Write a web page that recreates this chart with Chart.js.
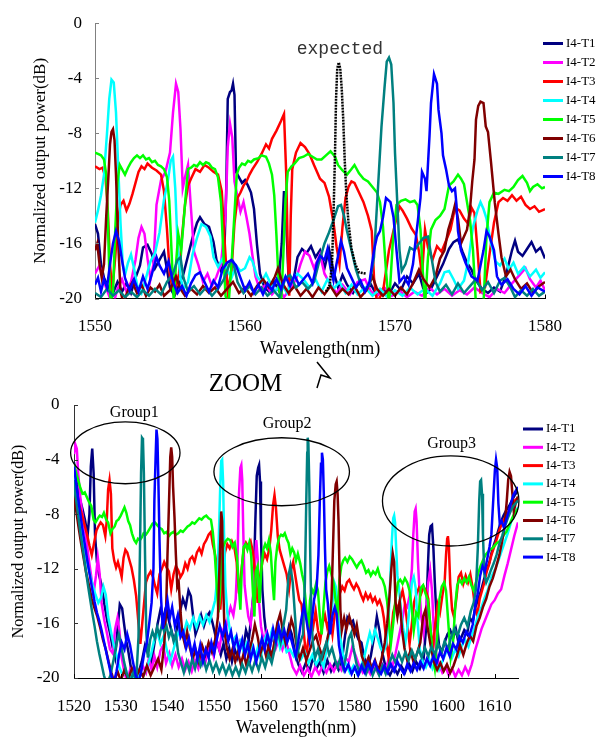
<!DOCTYPE html>
<html>
<head>
<meta charset="utf-8">
<title>I4 output spectra</title>
<script src="https://cdn.jsdelivr.net/npm/chart.js@4.4.1/dist/chart.umd.min.js"></script>
<style>
  html, body { margin: 0; padding: 0; background: #fff; }
  #wrap { position: relative; width: 596px; height: 738px; }
  canvas { position: absolute; left: 0; top: 0; }
</style>
</head>
<body>
<div id="wrap">
  <canvas id="fullChart" width="596" height="738"></canvas>
  <canvas id="zoomChart" width="596" height="738"></canvas>
</div>
<script>
// Series names and tick labels
const labels = ['I4-T1', 'I4-T2', 'I4-T3', 'I4-T4', 'I4-T5', 'I4-T6', 'I4-T7', 'I4-T8'];
const fullTicksX = [1550, 1560, 1570, 1580];
const zoomTicksX = [1520, 1530, 1540, 1550, 1560, 1570, 1580, 1590, 1600, 1610];
const ticksY = [0, -4, -8, -12, -16, -20];

// Upper plot, 1550-1580 nm: [wavelength, normalized power dB]
const fullT1 = [[1550,-14.6],[1550.2,-15.3],[1550.4,-17.5],[1550.6,-18.5],[1550.9,-19.2],[1551.2,-19.6],[1551.5,-18.8],[1551.8,-19.5],[1552.1,-18.9],[1552.4,-19.6],[1552.7,-18.5],[1553,-17.6],[1553.2,-16.3],[1553.5,-16.1],[1553.8,-16.8],[1554,-17.8],[1554.3,-17.2],[1554.6,-16.6],[1554.8,-17.9],[1555,-19.2],[1555.3,-19.8],[1555.6,-19],[1555.9,-18.2],[1556.2,-16.9],[1556.5,-15.6],[1556.8,-14.5],[1557,-14.1],[1557.3,-14.6],[1557.6,-14.8],[1557.9,-15.9],[1558.1,-17.2],[1558.4,-18],[1558.6,-17.4],[1558.75,-12],[1558.85,-5.5],[1559,-5],[1559.1,-4.9],[1559.2,-4.4],[1559.3,-5.2],[1559.4,-10.8],[1559.6,-11.2],[1559.8,-11.6],[1560,-11.4],[1560.2,-11.8],[1560.4,-12.3],[1560.6,-13.5],[1560.8,-16.1],[1561,-18.2],[1561.3,-19.2],[1561.6,-19.5],[1561.9,-18.7],[1562.2,-19.3],[1562.45,-16],[1562.6,-12.2],[1562.75,-14.5],[1562.9,-18.4],[1563.2,-18.9],[1563.5,-17],[1563.8,-16.4],[1564.1,-16.7],[1564.4,-16.2],[1564.7,-17],[1565,-16.5],[1565.3,-17.8],[1565.6,-16.4],[1565.9,-18],[1566.2,-19.2],[1566.5,-18.3],[1566.8,-19],[1567.2,-19.6],[1567.6,-18.8],[1568,-19.5],[1568.4,-19],[1568.8,-19.8],[1569.2,-19.3],[1569.6,-19.7],[1570,-18.9],[1570.4,-19.4],[1570.8,-18.4],[1571.2,-18.9],[1571.6,-18.2],[1572,-19.7],[1572.4,-19.3],[1572.8,-18.4],[1573.2,-17.5],[1573.6,-16.4],[1573.9,-15.9],[1574.2,-15.7],[1574.5,-16.6],[1574.8,-17.4],[1575.1,-17.9],[1575.4,-18.7],[1575.8,-19.3],[1576.2,-19.6],[1576.6,-19.2],[1577,-19.5],[1577.4,-18.3],[1577.8,-16.5],[1578,-15.8],[1578.2,-16.6],[1578.5,-16.9],[1578.8,-16.4],[1579.1,-15.9],[1579.4,-16.6],[1579.7,-16.3],[1580,-17.1]];
const fullT2 = [[1550,-18.2],[1550.3,-17.6],[1550.6,-18.8],[1550.9,-19.7],[1551.2,-20.5],[1551.5,-19.3],[1551.8,-18.6],[1552.1,-19.5],[1552.4,-18.8],[1552.7,-17.2],[1552.9,-15.6],[1553.1,-14.8],[1553.3,-15.3],[1553.5,-17.1],[1553.7,-18.6],[1553.9,-17.5],[1554.1,-13.2],[1554.4,-11.4],[1554.7,-10.8],[1555,-9.4],[1555.2,-6.5],[1555.4,-4.4],[1555.55,-5],[1555.7,-7.7],[1555.85,-12],[1556,-11.2],[1556.2,-10.3],[1556.4,-13.5],[1556.6,-16.6],[1556.9,-17.6],[1557.2,-18.8],[1557.5,-18.2],[1557.8,-19.1],[1558.1,-18.4],[1558.4,-17.5],[1558.7,-14],[1558.85,-9],[1559,-7.3],[1559.15,-8.3],[1559.3,-11.5],[1559.5,-12.6],[1559.7,-13.7],[1559.9,-13],[1560.1,-14.1],[1560.3,-15.3],[1560.5,-16.9],[1560.7,-18.4],[1561,-19.4],[1561.4,-19],[1561.8,-19.7],[1562.2,-19.2],[1562.6,-19.9],[1563,-19.3],[1563.4,-18.6],[1563.7,-17.5],[1564,-16.6],[1564.3,-16.9],[1564.6,-17.8],[1565,-16.8],[1565.3,-18.2],[1565.7,-19],[1566.1,-19.6],[1566.5,-19],[1567,-19.7],[1567.5,-18.8],[1568,-18.6],[1568.4,-19.5],[1568.8,-19.8],[1569.3,-19.2],[1569.8,-19.8],[1570.3,-19.4],[1570.8,-19.9],[1571.3,-19.5],[1571.8,-19.8],[1572.3,-19.2],[1572.8,-19.7],[1573.3,-19.3],[1573.8,-19.8],[1574.3,-19.4],[1574.8,-19.7],[1575.3,-19.2],[1575.8,-19.6],[1576.3,-19.9],[1576.8,-19.3],[1577.3,-19.6],[1577.8,-18.9],[1578.3,-18.3],[1578.7,-17.8],[1579,-18.6],[1579.4,-19.2],[1579.7,-18.7],[1580,-19.4]];
const fullT3 = [[1550,-10.4],[1550.3,-10.6],[1550.5,-10.5],[1550.7,-11.2],[1550.85,-13.5],[1551,-17.5],[1551.15,-19.5],[1551.35,-17],[1551.5,-14.5],[1551.7,-13.2],[1551.9,-12.9],[1552.1,-13.6],[1552.3,-13.1],[1552.5,-12.4],[1552.7,-11.6],[1552.9,-10.8],[1553.1,-10.4],[1553.3,-10.6],[1553.5,-10.2],[1553.8,-10.5],[1554.1,-10.7],[1554.4,-11],[1554.6,-12.2],[1554.8,-15],[1555,-18.5],[1555.3,-19.6],[1555.6,-18.2],[1555.8,-15.5],[1556,-13.2],[1556.2,-11.8],[1556.4,-11.3],[1556.7,-10.6],[1557,-10.8],[1557.3,-10.3],[1557.6,-10.5],[1557.9,-10.8],[1558.2,-11],[1558.45,-12.2],[1558.65,-16],[1558.85,-19.5],[1559.1,-18],[1559.3,-14.5],[1559.5,-12.7],[1559.7,-12.3],[1559.9,-11.8],[1560.1,-11.5],[1560.3,-11],[1560.5,-10.6],[1560.8,-10.1],[1561.1,-9.5],[1561.4,-8.8],[1561.6,-9.1],[1561.8,-8.4],[1562.1,-7.8],[1562.4,-7.1],[1562.6,-6.6],[1562.75,-11],[1562.85,-16.5],[1562.95,-19.8],[1563.05,-14],[1563.15,-10.6],[1563.4,-9.4],[1563.7,-8.7],[1564,-9],[1564.3,-9.5],[1564.6,-10.3],[1565,-11.3],[1565.3,-11.6],[1565.6,-12.6],[1565.9,-14.5],[1566.1,-16.2],[1566.3,-17.5],[1566.5,-14.8],[1566.7,-12.7],[1566.9,-11.9],[1567.1,-11.5],[1567.3,-11.6],[1567.6,-12.3],[1567.9,-13],[1568.2,-14],[1568.45,-15.1],[1568.6,-18.5],[1568.8,-20.3],[1569.2,-19.5],[1569.6,-16.5],[1570,-14.6],[1570.3,-13.3],[1570.5,-13.6],[1570.8,-14.2],[1571.1,-14.9],[1571.4,-15.4],[1571.6,-16.6],[1571.8,-18.3],[1572,-15],[1572.2,-16.3],[1572.5,-17.2],[1572.8,-16.2],[1573.1,-16.6],[1573.4,-15.8],[1573.7,-15],[1574,-13.4],[1574.3,-13.6],[1574.6,-14.2],[1574.9,-14.6],[1575.1,-13.4],[1575.3,-13.8],[1575.5,-16.5],[1575.7,-19.5],[1576,-19.2],[1576.3,-16.8],[1576.6,-14.5],[1576.9,-13],[1577.2,-12.7],[1577.5,-12.9],[1577.8,-12.5],[1578.1,-12.9],[1578.4,-12.6],[1578.7,-13.2],[1579,-13.5],[1579.3,-13.3],[1579.6,-13.7],[1580,-13.5]];
const fullT4 = [[1550,-14.5],[1550.2,-13.6],[1550.4,-12.5],[1550.6,-11],[1550.8,-8],[1550.95,-5.5],[1551.1,-4.1],[1551.25,-4.3],[1551.4,-6.5],[1551.55,-10.5],[1551.7,-14.5],[1551.85,-17.5],[1552,-18.3],[1552.2,-17.4],[1552.4,-16.8],[1552.6,-17.8],[1552.8,-19],[1553.1,-19.6],[1553.4,-18.5],[1553.7,-17.3],[1554,-16.7],[1554.3,-15.2],[1554.6,-12.8],[1554.85,-11.5],[1555.05,-10],[1555.2,-9.7],[1555.35,-12],[1555.5,-16],[1555.7,-18.5],[1555.9,-19.3],[1556.2,-18.8],[1556.5,-16.8],[1556.8,-15.6],[1557.1,-14.6],[1557.4,-14.8],[1557.7,-15.5],[1557.9,-17],[1558.2,-17.7],[1558.5,-17.1],[1558.8,-17.9],[1559.1,-18.5],[1559.4,-17.6],[1559.7,-18],[1560,-17.8],[1560.3,-17],[1560.5,-17.3],[1560.8,-18.4],[1561.1,-18.8],[1561.4,-18.2],[1561.7,-18.9],[1562,-19.5],[1562.4,-18.9],[1562.8,-19.6],[1563.1,-18.8],[1563.5,-18.2],[1563.9,-18.6],[1564.3,-19.2],[1564.7,-18.6],[1565.1,-19.5],[1565.5,-18.6],[1565.9,-19.3],[1566.3,-18.8],[1566.7,-19.6],[1567.1,-19],[1567.5,-19.7],[1568,-19.2],[1568.5,-19.8],[1569,-19.3],[1569.5,-19.9],[1570,-19.4],[1570.5,-19.8],[1571,-19.2],[1571.5,-19.7],[1572,-19.3],[1572.5,-19.8],[1573,-18.9],[1573.3,-18.1],[1573.6,-18],[1573.9,-18.6],[1574.2,-19.3],[1574.6,-18.7],[1574.9,-17.2],[1575.2,-14.8],[1575.5,-13.6],[1575.7,-13],[1575.9,-13.5],[1576.1,-14.2],[1576.4,-16],[1576.7,-17.3],[1577,-17.6],[1577.3,-17.1],[1577.6,-17.9],[1577.9,-17.4],[1578.2,-18.2],[1578.6,-17.7],[1579,-18.4],[1579.4,-17.9],[1579.7,-18.5],[1580,-18.1]];
const fullT5 = [[1550,-9.4],[1550.2,-9.5],[1550.4,-9.6],[1550.6,-9.9],[1550.75,-11],[1550.85,-14],[1550.95,-18],[1551.05,-20.5],[1551.2,-19.5],[1551.35,-15],[1551.5,-11.5],[1551.65,-10.3],[1551.8,-10.6],[1552,-11],[1552.2,-10.5],[1552.4,-10.1],[1552.6,-9.8],[1552.8,-9.6],[1553,-9.8],[1553.2,-9.6],[1553.4,-9.9],[1553.6,-9.8],[1553.8,-10.1],[1554,-10],[1554.2,-10.3],[1554.4,-10.4],[1554.6,-10.6],[1554.8,-11.2],[1554.95,-12.9],[1555.1,-16.5],[1555.25,-20.2],[1555.4,-17.5],[1555.55,-15.3],[1555.75,-16.5],[1555.9,-14.5],[1556.05,-12.5],[1556.2,-10.6],[1556.4,-10.5],[1556.6,-10.3],[1556.8,-10.4],[1557,-10.1],[1557.2,-10.3],[1557.4,-10.1],[1557.6,-10.2],[1557.8,-10.5],[1558,-10.6],[1558.2,-11.2],[1558.4,-13],[1558.55,-16.5],[1558.7,-19.8],[1558.9,-20.5],[1559.1,-17.5],[1559.3,-13.8],[1559.45,-11],[1559.6,-10.5],[1559.8,-10.2],[1560,-10.3],[1560.2,-10],[1560.4,-10.1],[1560.6,-9.9],[1560.9,-9.8],[1561.1,-9.6],[1561.4,-9.7],[1561.6,-10.2],[1561.8,-11],[1561.95,-12.5],[1562.1,-15.5],[1562.25,-19],[1562.4,-20.5],[1562.55,-17],[1562.7,-12.8],[1562.85,-10.8],[1563.1,-10.4],[1563.3,-10.2],[1563.6,-9.8],[1563.9,-9.7],[1564.2,-9.5],[1564.5,-9.7],[1564.8,-9.9],[1565.1,-9.9],[1565.4,-9.6],[1565.7,-9.3],[1566,-9.7],[1566.2,-10.3],[1566.5,-10.7],[1566.8,-11],[1567.1,-10.6],[1567.3,-10.3],[1567.6,-10.9],[1567.9,-11.3],[1568.2,-11.5],[1568.5,-11.9],[1568.8,-12.3],[1569,-13],[1569.2,-14.8],[1569.4,-18],[1569.6,-20.5],[1569.85,-16],[1570.1,-13.2],[1570.4,-12.9],[1570.7,-12.8],[1571,-13],[1571.3,-12.9],[1571.5,-13.2],[1571.7,-15],[1571.85,-18],[1572,-20.5],[1572.2,-17],[1572.4,-15],[1572.7,-14.3],[1573,-14],[1573.3,-13.5],[1573.6,-11.8],[1573.9,-11.5],[1574.2,-11],[1574.4,-11.3],[1574.6,-11.7],[1574.8,-13],[1575,-14.3],[1575.2,-16.5],[1575.4,-20.5],[1575.9,-20.4],[1576.1,-15.5],[1576.3,-13],[1576.6,-12.3],[1576.9,-12.4],[1577.3,-12.1],[1577.6,-12.2],[1577.9,-11.9],[1578.2,-11.4],[1578.5,-11.1],[1578.8,-11.6],[1579,-12.2],[1579.2,-11.9],[1579.5,-11.7],[1579.8,-12],[1580,-11.9]];
const fullT6 = [[1550,-16.5],[1550.15,-16],[1550.3,-17.5],[1550.45,-18.5],[1550.6,-17.5],[1550.75,-14],[1550.9,-11],[1551,-8.8],[1551.1,-7.9],[1551.2,-7.7],[1551.3,-8.5],[1551.4,-11],[1551.55,-16],[1551.7,-19.5],[1551.9,-20.3],[1552.2,-19.4],[1552.5,-18.8],[1552.8,-19.6],[1553.1,-19],[1553.4,-19.8],[1553.7,-19.2],[1554,-19.5],[1554.3,-19],[1554.6,-19.8],[1555,-19.4],[1555.4,-18.4],[1555.7,-19.3],[1556,-19.8],[1556.4,-19.3],[1556.8,-19.7],[1557.2,-19.1],[1557.6,-19.6],[1558,-19.2],[1558.4,-19.8],[1558.8,-19.3],[1559.2,-18.8],[1559.6,-19.6],[1560,-19.2],[1560.4,-19.8],[1560.8,-19.1],[1561.2,-18.6],[1561.6,-19.2],[1562,-18.4],[1562.2,-17.8],[1562.5,-18.9],[1562.9,-19.6],[1563.3,-19.1],[1563.7,-19.8],[1564.1,-19.3],[1564.5,-19.9],[1564.9,-19.2],[1565.3,-19.7],[1565.7,-19.1],[1566.1,-19.8],[1566.5,-19.3],[1566.9,-19.7],[1567.3,-19.1],[1567.7,-19.9],[1568.1,-19.4],[1568.5,-18.4],[1568.8,-19.3],[1569.2,-19.8],[1569.6,-19.3],[1570,-19.8],[1570.4,-19.2],[1570.8,-19.7],[1571.2,-18.9],[1571.6,-17.9],[1571.9,-18.6],[1572.3,-19.2],[1572.7,-18.4],[1573,-17.1],[1573.3,-16.5],[1573.55,-15],[1573.8,-14.1],[1574,-13.2],[1574.2,-14.2],[1574.4,-16],[1574.6,-15.5],[1574.8,-15],[1575,-13.5],[1575.15,-11.5],[1575.3,-9.9],[1575.4,-7],[1575.55,-6],[1575.7,-5.7],[1575.9,-5.8],[1576.05,-7.5],[1576.2,-7.9],[1576.4,-10.1],[1576.65,-13],[1576.9,-15.3],[1577.1,-17],[1577.4,-18.4],[1577.7,-17.9],[1578,-18.6],[1578.4,-19.3],[1578.8,-18.9],[1579.2,-19.6],[1579.6,-19.1],[1580,-18.8]];
const fullT7 = [[1550,-19.6],[1550.4,-19.9],[1550.8,-19.3],[1551.2,-19.8],[1551.6,-19.4],[1552,-19.9],[1552.4,-19.5],[1552.8,-19.9],[1553.2,-19.4],[1553.6,-19.8],[1554,-19.3],[1554.4,-19.7],[1554.8,-18.8],[1555.2,-18.2],[1555.5,-17.2],[1555.7,-17],[1555.9,-18.5],[1556.2,-19.5],[1556.6,-19.1],[1557,-19.7],[1557.4,-19.2],[1557.8,-19.8],[1558.2,-19.3],[1558.6,-18.6],[1559,-17.4],[1559.2,-17.3],[1559.5,-18.8],[1559.9,-19.6],[1560.3,-19.1],[1560.7,-19.7],[1561.1,-19.2],[1561.5,-19.8],[1561.9,-19.4],[1562.3,-19.9],[1562.7,-18.5],[1563,-18.3],[1563.4,-19.2],[1563.8,-18.8],[1564.2,-19.3],[1564.6,-18.8],[1564.9,-17.5],[1565.3,-16],[1565.6,-15.2],[1565.9,-14.3],[1566.2,-13.3],[1566.4,-13.2],[1566.6,-14],[1566.8,-15.1],[1567.1,-16.5],[1567.4,-17.9],[1567.7,-18.9],[1568,-19.4],[1568.3,-19],[1568.6,-17],[1568.9,-11.3],[1569.1,-7.5],[1569.3,-4.7],[1569.45,-2.8],[1569.6,-2.5],[1569.75,-3],[1569.9,-5.8],[1570,-9.4],[1570.15,-13],[1570.3,-16.5],[1570.45,-18],[1570.7,-17.5],[1571,-16.3],[1571.3,-16.5],[1571.6,-16],[1571.9,-15.6],[1572.2,-15.5],[1572.4,-16.8],[1572.7,-18.8],[1573,-19.5],[1573.4,-19],[1573.8,-19.7],[1574.2,-18.9],[1574.6,-19.6],[1575,-19.1],[1575.4,-18.6],[1575.8,-19.4],[1576.2,-18.8],[1576.6,-19.6],[1577,-18.7],[1577.3,-18.5],[1577.7,-19.2],[1578,-19.9],[1578.4,-19.4],[1578.8,-19.8],[1579.2,-19.3],[1579.6,-19.8],[1580,-19.5]];
const fullT8 = [[1550,-19],[1550.2,-18.5],[1550.4,-19.5],[1550.6,-18.6],[1550.8,-19.2],[1551,-17.5],[1551.2,-16],[1551.4,-15.1],[1551.6,-15.8],[1551.8,-17.2],[1552,-18.5],[1552.3,-19.4],[1552.6,-18.6],[1552.9,-19.5],[1553.2,-18.4],[1553.5,-19.3],[1553.8,-18.2],[1554.1,-17],[1554.3,-17.6],[1554.6,-18.2],[1554.9,-17.3],[1555.2,-18.8],[1555.5,-19.6],[1555.8,-19.1],[1556.1,-19.8],[1556.4,-18.9],[1556.7,-18.3],[1557,-18.1],[1557.3,-18.8],[1557.6,-19.5],[1557.9,-18.7],[1558.2,-19.2],[1558.5,-17.9],[1558.8,-17.4],[1559.1,-17.2],[1559.4,-17.6],[1559.7,-18.5],[1560,-19.4],[1560.3,-18.8],[1560.6,-19.6],[1560.9,-19],[1561.2,-19.7],[1561.5,-18.9],[1561.8,-19.4],[1562.1,-18.6],[1562.4,-19.3],[1562.7,-18.4],[1563,-19.1],[1563.3,-18.3],[1563.6,-19],[1563.9,-18.6],[1564.2,-18.2],[1564.5,-18.9],[1564.8,-17.4],[1565,-16.9],[1565.3,-17.2],[1565.5,-16.4],[1565.7,-17.8],[1565.9,-18.7],[1566.1,-17.5],[1566.4,-15.8],[1566.6,-16.6],[1566.8,-17.8],[1567.1,-18.5],[1567.4,-19.2],[1567.7,-18.7],[1568,-19.5],[1568.3,-18.8],[1568.6,-16.5],[1568.8,-15.5],[1569,-15.1],[1569.2,-14.1],[1569.4,-12.7],[1569.7,-13],[1569.9,-14.1],[1570.1,-16.5],[1570.3,-18.8],[1570.6,-18.4],[1570.9,-19],[1571.2,-17.5],[1571.4,-15.5],[1571.7,-12.7],[1571.8,-10.8],[1572,-11.3],[1572.1,-12.2],[1572.3,-8.2],[1572.4,-5.8],[1572.6,-3.7],[1572.8,-4.4],[1572.9,-6.3],[1573.1,-8],[1573.2,-9.6],[1573.4,-10.6],[1573.6,-11.8],[1573.8,-12.2],[1574,-12],[1574.1,-13.2],[1574.2,-15.1],[1574.4,-16.5],[1574.7,-17.4],[1575.1,-18.4],[1575.5,-18.7],[1575.9,-16.5],[1576.1,-15.1],[1576.3,-15.5],[1576.6,-16.5],[1576.8,-18.4],[1577.1,-19],[1577.5,-18.6],[1577.9,-19.3],[1578.3,-19.7],[1578.7,-19.1],[1579.1,-19.8],[1579.5,-19.2],[1580,-19.5]];
const expected = [[1565.4,-19.5],[1565.65,-19],[1565.8,-17.5],[1565.9,-14],[1566,-9.5],[1566.07,-5.5],[1566.15,-3.3],[1566.25,-2.85],[1566.35,-3.3],[1566.45,-4.8],[1566.55,-7],[1566.65,-10],[1566.75,-12.3],[1566.9,-14.5],[1567.1,-16.4],[1567.35,-17.5],[1567.6,-18.1],[1568.1,-18.2]];

// Lower plot (zoom), 1520-1615 nm
const zoomT1 = [[1520,-4.2],[1520.6,-5.8],[1521.2,-6.8],[1521.8,-7.6],[1522.4,-8.5],[1522.9,-9.6],[1523.3,-8],[1523.6,-4.5],[1523.9,-3.2],[1524.2,-5],[1524.5,-9.5],[1524.9,-11.5],[1525.4,-12.5],[1525.9,-13.2],[1526.5,-14.6],[1527.1,-15.8],[1527.7,-16.7],[1528.3,-17.8],[1528.8,-18.5],[1529.3,-16.5],[1529.8,-14.6],[1530.3,-14.9],[1530.7,-16],[1531.2,-17.3],[1531.7,-18.2],[1532.3,-19.5],[1533,-20.5],[1533.8,-19.6],[1534.5,-18.8],[1535.2,-17.6],[1535.8,-18.2],[1536.5,-19],[1537.2,-17.5],[1537.9,-16],[1538.5,-15],[1539.1,-15.6],[1539.7,-14.8],[1540.3,-15.8],[1540.9,-16.6],[1541.5,-17.4],[1542.1,-16.2],[1542.7,-15.1],[1543.3,-14.2],[1543.9,-14.8],[1544.5,-13.6],[1545,-14],[1545.5,-15.5],[1546,-16.8],[1546.6,-16.2],[1547.2,-15.4],[1547.8,-16.2],[1548.4,-15.5],[1549,-15.2],[1549.6,-15.9],[1550.2,-16.8],[1550.8,-17.6],[1551.4,-18.3],[1552,-17.5],[1552.6,-18.6],[1553.2,-17.8],[1553.8,-18.8],[1554.4,-17.9],[1555,-18.5],[1555.6,-17.4],[1556.2,-17.9],[1556.8,-16.5],[1557.4,-17.2],[1557.9,-15.6],[1558.4,-13.8],[1558.8,-8.5],[1559.1,-5.2],[1559.4,-4.6],[1559.6,-4.4],[1559.8,-5.6],[1560,-9.5],[1560.3,-13.5],[1560.7,-15.5],[1561.2,-17],[1561.8,-18],[1562.3,-16.8],[1562.9,-17.5],[1563.5,-16.2],[1564.1,-17],[1564.7,-16.4],[1565.3,-17.3],[1566,-16.2],[1566.6,-16.8],[1567.3,-18.2],[1568,-19],[1568.8,-19.6],[1569.6,-18.9],[1570.4,-19.5],[1571.2,-18.4],[1571.9,-19.3],[1572.6,-18.8],[1573.4,-19.6],[1574.2,-18.7],[1575,-19.5],[1575.8,-18.9],[1576.6,-19.4],[1577.4,-18.5],[1578,-16.9],[1578.5,-15.6],[1579.1,-16],[1579.7,-15.8],[1580.3,-16.7],[1580.9,-17.2],[1581.5,-17.4],[1582.1,-18.5],[1582.8,-19.3],[1583.5,-18.4],[1584.2,-17],[1584.8,-15.5],[1585.4,-16.6],[1586,-18.2],[1586.8,-19.4],[1587.6,-19.8],[1588.4,-19.2],[1589.2,-19.7],[1590,-19.1],[1590.8,-19.6],[1591.6,-18.9],[1592.4,-19.5],[1593.2,-18.8],[1594,-19.3],[1594.8,-18.6],[1595.3,-16.5],[1595.7,-12],[1596,-9.5],[1596.3,-8.9],[1596.6,-8.8],[1596.9,-10.5],[1597.2,-13],[1597.6,-15.8],[1598.1,-17.6],[1598.7,-18.1],[1599.3,-17.4],[1599.9,-16.8],[1600.5,-16.5],[1601.1,-17.1],[1601.7,-16.4],[1602.3,-17.5],[1602.9,-17],[1603.5,-16.5],[1604.1,-16.8],[1604.7,-15.6],[1605.3,-15.9],[1605.9,-14.8],[1606.5,-14.2],[1607.1,-13.6],[1607.7,-12.8],[1608.3,-12.1],[1608.9,-11.5],[1609.5,-10.6],[1610.1,-10],[1610.7,-9.3],[1611.3,-8.6],[1611.9,-8.1],[1612.5,-7.7],[1613.1,-7.4],[1613.7,-7],[1614.3,-6.6],[1615,-6.3]];
const zoomT2 = [[1520,-3.6],[1520.3,-2.9],[1520.6,-3.2],[1520.9,-5],[1521.3,-6.6],[1521.7,-7.8],[1522.2,-8.9],[1522.7,-10],[1523.2,-11.4],[1523.7,-12.6],[1524.2,-13.8],[1524.7,-12.5],[1525.1,-11.2],[1525.5,-12.4],[1525.9,-14.5],[1526.5,-15.8],[1527.1,-16.8],[1527.7,-17.9],[1528.3,-18.2],[1528.8,-16.4],[1529.3,-15.6],[1529.7,-16.5],[1530.2,-18.5],[1530.8,-19.6],[1531.4,-20.3],[1532,-19.4],[1532.6,-19.9],[1533.3,-19.3],[1534,-19.8],[1534.7,-19.1],[1535.4,-19.6],[1536,-18.6],[1536.6,-19.4],[1537.2,-18.4],[1537.8,-19.2],[1538.5,-18],[1539.1,-17.6],[1539.7,-18.9],[1540.4,-18.2],[1541,-19.1],[1541.7,-18.3],[1542.4,-19.2],[1543.1,-18.6],[1543.8,-19.4],[1544.5,-18.8],[1545.2,-19.5],[1545.9,-18.7],[1546.6,-19.3],[1547.3,-18.4],[1548,-19],[1548.7,-18],[1549.3,-17.5],[1549.9,-18.4],[1550.5,-17.2],[1551.1,-17.9],[1551.7,-16.5],[1552.3,-16.9],[1552.9,-15.6],[1553.5,-14.8],[1554.1,-15.4],[1554.6,-14.2],[1555,-11],[1555.3,-6.5],[1555.6,-4.6],[1555.8,-4.4],[1556,-5.5],[1556.2,-9],[1556.5,-13.2],[1556.9,-14.4],[1557.3,-15.5],[1557.8,-16.1],[1558.3,-14.2],[1558.7,-11.5],[1559,-9.9],[1559.3,-11.2],[1559.6,-14.5],[1560,-16.2],[1560.6,-17.3],[1561.2,-16.6],[1561.9,-17.5],[1562.5,-16.9],[1563.2,-17.8],[1563.9,-17.1],[1564.6,-17.9],[1565.3,-17.2],[1566,-18.1],[1566.8,-19.2],[1567.6,-19.7],[1568.4,-19.1],[1569.2,-19.8],[1570,-19.3],[1570.8,-19.9],[1571.6,-19.2],[1572.4,-19.7],[1573.2,-19.1],[1574,-19.6],[1574.8,-19],[1575.6,-19.5],[1576.4,-18.9],[1577.2,-19.4],[1578,-18.5],[1578.8,-18.8],[1579.5,-17.8],[1580.2,-18.3],[1581,-19.1],[1581.8,-19.6],[1582.6,-19.2],[1583.4,-19.7],[1584.2,-19.1],[1585,-19.6],[1585.8,-18.9],[1586.6,-19.4],[1587.4,-18.6],[1588.1,-19.2],[1588.8,-18.2],[1589.5,-17],[1590.2,-15.8],[1590.8,-14.6],[1591.3,-14.8],[1591.8,-14],[1592.3,-12],[1592.6,-9.5],[1592.9,-7.8],[1593.1,-7.6],[1593.3,-8.5],[1593.6,-11.5],[1593.9,-13.5],[1594.3,-15.5],[1594.8,-16.7],[1595.3,-15],[1595.8,-13],[1596.2,-12.1],[1596.6,-13.6],[1597,-16.5],[1597.5,-18.2],[1598.1,-19],[1598.8,-19.6],[1599.5,-19.2],[1600.2,-19.8],[1600.9,-19.3],[1601.6,-19.9],[1602.3,-19.4],[1603,-19.8],[1603.7,-19.2],[1604.4,-19.7],[1605.1,-19],[1605.8,-18],[1606.5,-17.2],[1607.2,-16.4],[1607.9,-15.8],[1608.6,-15.2],[1609.3,-14.6],[1610,-14.3],[1610.7,-13.8],[1611.4,-13.5],[1612.1,-12.5],[1612.8,-11.6],[1613.5,-10.6],[1614.2,-9.6],[1615,-8.6]];
const zoomT3 = [[1520,-5.8],[1520.5,-6.5],[1521,-7.2],[1521.6,-7.9],[1522.2,-8.7],[1522.8,-9.5],[1523.3,-10.3],[1523.8,-11],[1524.3,-10.1],[1524.8,-9.2],[1525.2,-8.9],[1525.7,-8.6],[1526.2,-8.8],[1526.7,-9.6],[1527,-8.5],[1527.3,-6.2],[1527.6,-5.5],[1527.9,-6.5],[1528.2,-10.5],[1528.6,-11.4],[1529,-11.9],[1529.4,-11.5],[1529.8,-12],[1530.2,-12.6],[1530.6,-11.2],[1531,-10.6],[1531.4,-10.8],[1531.8,-11.3],[1532.3,-11.9],[1532.8,-12.8],[1533.3,-14],[1533.8,-16],[1534.2,-17.5],[1534.6,-16],[1535,-14.5],[1535.4,-13],[1535.9,-12.5],[1536.4,-12.2],[1536.9,-12.6],[1537.3,-13.2],[1537.8,-13.8],[1538.3,-12.4],[1538.8,-12],[1539.3,-11.5],[1539.8,-11.9],[1540.3,-12.2],[1540.8,-13.5],[1541.3,-12.4],[1541.8,-11.8],[1542.3,-12.1],[1542.8,-12.6],[1543.3,-12.3],[1543.8,-11.6],[1544.3,-12],[1544.8,-11.3],[1545.3,-11.1],[1545.8,-11.5],[1546.3,-10.8],[1546.8,-10.5],[1547.3,-10.9],[1547.8,-10.2],[1548.3,-9.9],[1548.8,-9.5],[1549.3,-9.3],[1549.7,-10.2],[1550.1,-10.8],[1550.5,-11.6],[1550.9,-13.5],[1551.3,-15],[1551.8,-12.5],[1552.3,-10.8],[1552.8,-10.2],[1553.3,-10.5],[1553.8,-10],[1554.3,-10.4],[1554.8,-11.5],[1555.3,-13.8],[1555.8,-12.2],[1556.3,-10.6],[1556.8,-10.1],[1557.3,-10.4],[1557.8,-10],[1558.3,-10.8],[1558.8,-12.5],[1559.3,-14.5],[1559.8,-12.6],[1560.3,-11.5],[1560.8,-10.9],[1561.3,-11.3],[1561.8,-10.5],[1562.2,-9.2],[1562.6,-7.3],[1562.9,-6.6],[1563.2,-7.5],[1563.6,-9.6],[1564,-10.6],[1564.5,-11.2],[1565,-11.8],[1565.5,-12.4],[1566,-13.5],[1566.5,-12],[1566.9,-11.5],[1567.3,-12.4],[1567.8,-13.5],[1568.2,-14.3],[1568.7,-14.6],[1569.2,-16.8],[1569.7,-18.5],[1570.2,-17],[1570.7,-15.5],[1571.2,-16.2],[1571.7,-15.1],[1572.2,-16.5],[1572.7,-17.2],[1573.2,-16],[1573.7,-15.4],[1574.2,-16.3],[1574.8,-15.6],[1575.3,-16.8],[1575.9,-15],[1576.4,-14.2],[1576.9,-13.8],[1577.4,-13.3],[1577.9,-13.6],[1578.4,-13],[1578.9,-12.8],[1579.4,-13.2],[1579.9,-13.5],[1580.4,-13.1],[1580.9,-13.4],[1581.4,-13.9],[1581.9,-14.3],[1582.4,-13.8],[1582.9,-14.2],[1583.4,-13.9],[1583.9,-14.4],[1584.4,-14.1],[1584.9,-14.6],[1585.4,-14.3],[1585.9,-14.8],[1586.3,-15.6],[1586.8,-17.2],[1587.3,-18.5],[1587.8,-17],[1588.3,-15.2],[1588.8,-14.5],[1589.3,-15],[1589.8,-14.2],[1590.3,-13.6],[1590.8,-14.5],[1591.3,-16],[1591.8,-17.5],[1592.3,-16],[1592.8,-14.4],[1593.3,-13.8],[1593.8,-13.4],[1594.3,-13.8],[1594.8,-13.3],[1595.3,-13.6],[1595.8,-14.2],[1596.3,-16.5],[1596.8,-17.8],[1597.3,-16],[1597.8,-14.6],[1598.3,-15.2],[1598.8,-14],[1599.3,-13],[1599.6,-11],[1599.85,-9.8],[1600,-9.6],[1600.2,-10.3],[1600.5,-13.1],[1600.9,-15],[1601.3,-15.5],[1601.8,-14.2],[1602.3,-12.6],[1602.8,-12.3],[1603.3,-13.1],[1603.8,-12.5],[1604.3,-13],[1604.8,-12.4],[1605.3,-13.4],[1605.8,-14.8],[1606.3,-15.4],[1606.8,-14.2],[1607.3,-13.6],[1607.8,-13],[1608.3,-12.2],[1608.8,-11.7],[1609.3,-11],[1609.8,-10.5],[1610.3,-10],[1610.8,-9.4],[1611.3,-8.9],[1611.8,-8.5],[1612.3,-8.2],[1612.8,-7.9],[1613.3,-7.6],[1613.8,-7.3],[1614.3,-7],[1615,-6.8]];
const zoomT4 = [[1520,-5.2],[1520.5,-6.8],[1521,-8],[1521.6,-9.3],[1522.2,-10.4],[1522.8,-11.5],[1523.4,-12.4],[1524,-13.2],[1524.6,-13.9],[1525.2,-14.5],[1525.8,-14.1],[1526.3,-13.3],[1526.8,-13.9],[1527.3,-15.5],[1527.9,-16.6],[1528.5,-17.6],[1529.1,-18.3],[1529.7,-19.2],[1530.4,-19.8],[1531.1,-19.4],[1531.8,-20.2],[1532.5,-19.6],[1533.2,-20.3],[1534,-19.5],[1534.8,-19.9],[1535.6,-19.2],[1536.4,-18.4],[1537.1,-17.3],[1537.8,-16.6],[1538.5,-17.5],[1539.2,-16.9],[1539.9,-18],[1540.6,-18.8],[1541.3,-17.9],[1542,-17],[1542.7,-16.4],[1543.4,-16.8],[1544.1,-15.9],[1544.8,-16.4],[1545.5,-15.6],[1546.2,-16.3],[1546.9,-15.5],[1547.6,-16.1],[1548.3,-15.4],[1549,-15.9],[1549.6,-15.1],[1550.2,-14.3],[1550.7,-12.5],[1551,-9.5],[1551.3,-5.8],[1551.5,-4.1],[1551.7,-4],[1551.9,-5.6],[1552.1,-9.4],[1552.4,-13.3],[1552.8,-15.2],[1553.3,-16.4],[1553.9,-17.3],[1554.5,-17],[1555.1,-17.8],[1555.7,-17.3],[1556.3,-18.1],[1556.9,-17.5],[1557.5,-18.3],[1558.1,-17.6],[1558.7,-18.5],[1559.3,-17.8],[1559.9,-18.6],[1560.5,-17.4],[1561.1,-16.9],[1561.7,-17.5],[1562.3,-16.6],[1562.9,-17.4],[1563.5,-16.9],[1564.1,-17.8],[1564.8,-17.2],[1565.5,-18.1],[1566.2,-17.9],[1567,-18.4],[1567.8,-17.9],[1568.6,-18.6],[1569.4,-18.1],[1570.2,-18.9],[1571,-18.3],[1571.8,-19],[1572.6,-18.5],[1573.4,-19.2],[1574.2,-17.5],[1574.8,-16.4],[1575.3,-14.5],[1575.7,-13],[1576,-13.3],[1576.4,-15],[1576.9,-16.8],[1577.5,-18.2],[1578.2,-19],[1579,-19.6],[1579.8,-19.1],[1580.6,-19.7],[1581.4,-19.2],[1582.2,-18.3],[1582.8,-17.4],[1583.3,-16.7],[1583.8,-17.3],[1584.4,-16.5],[1585,-17.1],[1585.6,-17.8],[1586.2,-18.1],[1586.8,-17.6],[1587.3,-15.8],[1587.7,-12.5],[1588,-10],[1588.3,-8.3],[1588.5,-8.1],[1588.7,-8.6],[1588.95,-10.6],[1589.2,-12.5],[1589.5,-13.3],[1589.9,-14.8],[1590.4,-16.3],[1590.9,-17.4],[1591.4,-16.2],[1591.9,-14.5],[1592.3,-13],[1592.7,-12.6],[1593.1,-13.4],[1593.5,-15.8],[1594,-17.9],[1594.6,-18.8],[1595.3,-19.2],[1596,-18.6],[1596.7,-19.3],[1597.4,-18.7],[1598.1,-19.4],[1598.8,-18.8],[1599.5,-18.2],[1600.2,-17.7],[1600.9,-18.5],[1601.6,-17.9],[1602.3,-18.4],[1603,-17.6],[1603.7,-17.2],[1604.4,-17.7],[1605.1,-16.9],[1605.8,-16.2],[1606.5,-15.4],[1607.2,-14.8],[1607.9,-14.1],[1608.6,-13.5],[1609.3,-12.6],[1610,-12.1],[1610.7,-11.5],[1611.4,-10.8],[1612.1,-10.1],[1612.8,-9.4],[1613.5,-8.6],[1614.2,-8],[1615,-7.5]];
const zoomT5 = [[1520,-4.3],[1520.4,-4.9],[1520.9,-5.5],[1521.3,-6],[1521.8,-6.5],[1522.3,-6.4],[1522.8,-6.8],[1523.2,-7.1],[1523.7,-7.4],[1524.2,-8.4],[1524.6,-8.6],[1525.1,-8.3],[1525.5,-8.1],[1526,-8.2],[1526.4,-7.9],[1526.9,-8.4],[1527.3,-8.6],[1527.8,-9.4],[1528.2,-9.1],[1528.7,-8.9],[1529.1,-8.5],[1529.5,-8.4],[1530,-8.1],[1530.4,-7.8],[1530.8,-7.5],[1531.2,-7.9],[1531.6,-8.5],[1532,-8.8],[1532.4,-9.4],[1532.9,-9.9],[1533.3,-10.1],[1533.7,-9.8],[1534.1,-9.9],[1534.5,-9.7],[1534.9,-9.4],[1535.4,-9.5],[1535.8,-9.3],[1536.3,-9],[1536.8,-8.7],[1537.3,-8.6],[1537.8,-8.8],[1538.3,-9],[1538.8,-9.1],[1539.3,-9.4],[1539.8,-9.3],[1540.3,-9.6],[1540.8,-9.4],[1541.3,-9.3],[1541.8,-9.5],[1542.3,-9.4],[1542.8,-9.2],[1543.3,-9.3],[1543.8,-9.1],[1544.3,-8.9],[1544.8,-8.8],[1545.3,-8.6],[1545.8,-8.7],[1546.3,-8.5],[1546.8,-8.3],[1547.3,-8.4],[1547.8,-8.2],[1548.3,-8.1],[1548.8,-8.3],[1549.3,-8.4],[1549.7,-9.3],[1550.1,-10.8],[1550.5,-13],[1550.9,-15.2],[1551.2,-14],[1551.5,-11.5],[1551.9,-10.4],[1552.4,-10],[1552.9,-9.8],[1553.4,-9.9],[1553.9,-10.4],[1554.4,-10.1],[1554.9,-11.2],[1555.3,-13.5],[1555.6,-15],[1555.9,-12],[1556.3,-10.4],[1556.7,-10.2],[1557.1,-10.6],[1557.5,-10.1],[1557.9,-11],[1558.3,-13.8],[1558.6,-15.5],[1558.9,-12.2],[1559.3,-11.8],[1559.7,-14.5],[1560.1,-12],[1560.5,-10.6],[1560.9,-10.2],[1561.3,-10.5],[1561.7,-9.9],[1562.1,-10.8],[1562.5,-13],[1562.8,-14.3],[1563.1,-11.5],[1563.5,-10.3],[1563.9,-9.7],[1564.3,-9.5],[1564.7,-9.6],[1565.1,-9.4],[1565.5,-9.8],[1565.9,-10.1],[1566.3,-10.9],[1566.7,-10.5],[1567.1,-10.8],[1567.5,-11.4],[1567.9,-10.9],[1568.4,-11.6],[1568.8,-12.4],[1569.2,-13],[1569.6,-14.5],[1570.1,-16.5],[1570.5,-14.3],[1570.9,-13.5],[1571.3,-13.8],[1571.8,-13.1],[1572.2,-13.6],[1572.6,-15.5],[1573,-16.8],[1573.4,-14.8],[1573.8,-13],[1574.2,-12.2],[1574.6,-11.8],[1575,-12.3],[1575.5,-13],[1576,-14.4],[1576.4,-15.2],[1576.8,-12.8],[1577.2,-11.8],[1577.6,-11.4],[1578,-11.2],[1578.5,-11.5],[1579,-11.1],[1579.5,-11.3],[1580,-11.6],[1580.5,-11.9],[1581,-11.6],[1581.5,-11.4],[1582,-11.8],[1582.5,-12.3],[1583,-12.1],[1583.5,-12.5],[1584,-12.2],[1584.5,-12.4],[1585,-12],[1585.5,-12.6],[1586,-12.8],[1586.5,-13.3],[1587,-14.4],[1587.4,-16],[1587.8,-17.5],[1588.3,-16],[1588.8,-14.2],[1589.3,-13],[1589.8,-12.8],[1590.3,-13.1],[1590.8,-12.7],[1591.3,-13],[1591.8,-13.6],[1592.3,-15],[1592.7,-16.5],[1593.2,-15.2],[1593.7,-15.5],[1594.2,-13.4],[1594.7,-13.2],[1595.2,-13.8],[1595.7,-14.3],[1596.2,-16],[1596.7,-18.2],[1597.2,-19.3],[1597.7,-17],[1598.2,-14.2],[1598.7,-13.3],[1599.2,-13],[1599.6,-13.6],[1600.1,-16],[1600.6,-18.5],[1601.1,-17.4],[1601.6,-14.6],[1602,-13.2],[1602.5,-12.8],[1603,-13.1],[1603.5,-12.7],[1604,-13],[1604.5,-12.6],[1605,-13.2],[1605.5,-13.6],[1606,-13],[1606.5,-12.3],[1607,-11.8],[1607.5,-11.4],[1608,-11],[1608.5,-10.8],[1609,-10.6],[1609.5,-10.5],[1610,-10.3],[1610.5,-10.1],[1611,-10],[1611.5,-9.8],[1612,-9.5],[1612.5,-9.3],[1613,-8.9],[1613.5,-8.5],[1614,-8.1],[1615,-7.6]];
const zoomT6 = [[1520,-6.8],[1520.5,-7.8],[1521,-9],[1521.5,-10.1],[1522,-11.1],[1522.6,-12.3],[1523.2,-13.2],[1523.8,-14.2],[1524.4,-14.9],[1525,-15.5],[1525.6,-16.3],[1526.2,-17.2],[1526.8,-17.9],[1527.4,-18.8],[1528,-19.6],[1528.6,-20.3],[1529.3,-19.5],[1530,-20.2],[1530.8,-19.4],[1531.6,-20.1],[1532.4,-19.3],[1533.2,-20],[1534,-19.4],[1534.8,-19.9],[1535.6,-19.1],[1536.4,-19.8],[1537.2,-19.2],[1538,-18.6],[1538.7,-19.4],[1539.3,-17.5],[1539.7,-15.2],[1540,-11],[1540.3,-7.5],[1540.6,-3.8],[1540.8,-3.1],[1541,-3.8],[1541.2,-6],[1541.5,-8.2],[1541.8,-11],[1542.1,-13.3],[1542.4,-13],[1542.8,-15.2],[1543.2,-16.8],[1543.7,-17.5],[1544.2,-16.6],[1544.8,-17.8],[1545.4,-18.6],[1546,-17.9],[1546.7,-18.8],[1547.4,-17.6],[1548.1,-18.3],[1548.8,-17.4],[1549.5,-18.1],[1550.2,-17.2],[1550.8,-15.5],[1551.2,-11],[1551.5,-7.8],[1551.7,-8.5],[1551.9,-13],[1552.2,-16.5],[1552.7,-17.8],[1553.3,-18.6],[1553.9,-17.9],[1554.5,-18.8],[1555.1,-18.1],[1555.7,-19],[1556.3,-18.2],[1556.9,-19.1],[1557.5,-18],[1558.1,-17.2],[1558.7,-16.1],[1559.3,-17],[1559.9,-18.2],[1560.5,-17.5],[1561.1,-18.4],[1561.7,-17.6],[1562.3,-18.5],[1562.9,-17.3],[1563.5,-16],[1564.1,-15.3],[1564.7,-16.6],[1565.3,-17.5],[1565.9,-16.8],[1566.5,-15.7],[1567.1,-16.4],[1567.7,-17.8],[1568.3,-18.6],[1569,-17.8],[1569.7,-18.7],[1570.4,-18],[1571.1,-17.3],[1571.8,-16.9],[1572.5,-17.8],[1573.2,-18.5],[1573.9,-17.6],[1574.6,-16.5],[1575.1,-14.2],[1575.4,-10.6],[1575.7,-7],[1576,-5.8],[1576.2,-5.6],[1576.4,-6.5],[1576.6,-8.5],[1576.8,-12],[1577,-15],[1577.3,-16.5],[1577.8,-15.6],[1578.3,-16.4],[1578.9,-15.5],[1579.5,-16.2],[1580,-16.8],[1580.5,-16.1],[1581,-17.2],[1581.6,-18.4],[1582.3,-19.1],[1583,-18.5],[1583.7,-19.3],[1584.4,-18.7],[1585.1,-19.5],[1585.8,-18.6],[1586.5,-17.4],[1587,-16],[1587.5,-14],[1587.9,-12],[1588.2,-10.9],[1588.5,-11.5],[1588.8,-14.5],[1589.2,-15.5],[1589.7,-14.4],[1590.2,-16.5],[1590.7,-17.8],[1591.3,-18.7],[1592,-18],[1592.7,-18.9],[1593.4,-18.2],[1594.1,-17.4],[1594.7,-15.5],[1595.2,-15],[1595.7,-16.4],[1596.3,-17.6],[1597,-18.8],[1597.7,-19.4],[1598.4,-18.9],[1599.1,-19.5],[1599.8,-19],[1600.5,-19.6],[1601.2,-19.1],[1601.9,-18.4],[1602.6,-17.6],[1603.3,-18.3],[1604,-17.5],[1604.7,-16.9],[1605.4,-17.3],[1606.1,-16.2],[1606.8,-15.6],[1607.5,-14.8],[1608.2,-14.2],[1608.9,-13.3],[1609.6,-12.7],[1610.3,-11.9],[1611,-11],[1611.6,-10],[1612.1,-9],[1612.6,-7],[1612.9,-5.5],[1613.2,-4.9],[1613.5,-5.2],[1613.8,-6.5],[1614.1,-7.8],[1614.5,-7.2],[1615,-6.7]];
const zoomT7 = [[1520,-5.5],[1520.4,-6.8],[1520.9,-8.1],[1521.4,-9.4],[1521.9,-10.6],[1522.4,-11.8],[1522.9,-13],[1523.4,-14.1],[1523.9,-15.2],[1524.4,-16.2],[1524.9,-17.3],[1525.4,-18.2],[1525.9,-19],[1526.4,-19.8],[1527,-20.5],[1527.8,-19.8],[1528.5,-18.6],[1529.1,-17.5],[1529.6,-16.8],[1530.1,-17.6],[1530.7,-18.8],[1531.3,-19.7],[1532,-20.3],[1532.7,-19.6],[1533.3,-20.2],[1533.8,-17],[1534.1,-11],[1534.35,-5],[1534.55,-2.4],[1534.75,-2.5],[1534.95,-5],[1535.2,-11],[1535.45,-16.5],[1535.8,-18.5],[1536.3,-17.2],[1536.8,-16.6],[1537.3,-17.1],[1537.8,-16.3],[1538.3,-16.9],[1538.8,-16.1],[1539.3,-16.6],[1539.8,-16.2],[1540.3,-17],[1540.8,-16.5],[1541.3,-17.3],[1541.8,-16.8],[1542.3,-18.2],[1542.9,-18.9],[1543.5,-19.6],[1544.1,-18.8],[1544.7,-19.5],[1545.3,-18.6],[1545.9,-19.3],[1546.5,-18.4],[1547.1,-19.1],[1547.7,-18.5],[1548.3,-19.4],[1549,-18.7],[1549.7,-19.5],[1550.4,-18.9],[1551.1,-19.6],[1551.8,-19],[1552.5,-19.7],[1553.2,-19.1],[1553.9,-19.8],[1554.6,-19.2],[1555.3,-19.8],[1556,-19],[1556.7,-19.6],[1557.4,-18.8],[1558.1,-19.5],[1558.8,-18.7],[1559.5,-19.4],[1560.2,-18.5],[1560.9,-19.2],[1561.6,-18.3],[1562.3,-18.9],[1563,-17.8],[1563.6,-16.6],[1564.2,-17.4],[1564.8,-16.2],[1565.4,-15],[1565.9,-12.5],[1566.3,-11.8],[1566.8,-13],[1567.3,-15.5],[1567.8,-18.2],[1568.4,-17.4],[1569,-16.8],[1569.4,-13],[1569.7,-7],[1569.9,-3.5],[1570,-2.4],[1570.15,-2.8],[1570.35,-6],[1570.55,-11],[1570.8,-15.5],[1571.1,-17.4],[1571.6,-18.5],[1572.2,-17.9],[1572.8,-18.7],[1573.4,-18],[1574,-17.4],[1574.6,-18.3],[1575.2,-17.8],[1575.8,-18.6],[1576.4,-19.2],[1577,-18.5],[1577.6,-19.3],[1578.2,-18.4],[1578.8,-17.1],[1579.3,-16.7],[1579.8,-17.8],[1580.4,-18.9],[1581.1,-19.6],[1581.8,-19],[1582.5,-19.7],[1583.2,-19.1],[1583.9,-19.8],[1584.6,-19.2],[1585.3,-19.8],[1586,-19.1],[1586.7,-19.7],[1587.4,-19],[1588.1,-18.3],[1588.8,-18.9],[1589.5,-18.2],[1590.2,-18.8],[1590.9,-18.1],[1591.6,-18.7],[1592.3,-18],[1593,-18.6],[1593.7,-17.9],[1594.4,-18.5],[1595.1,-17.8],[1595.8,-18.4],[1596.5,-17.7],[1597.2,-18.3],[1597.9,-17.5],[1598.6,-18.2],[1599.3,-17.3],[1600,-17.9],[1600.7,-17],[1601.4,-16.4],[1602.1,-16.9],[1602.8,-16.1],[1603.5,-15.6],[1604.2,-16.2],[1604.9,-15.1],[1605.5,-14.5],[1606,-13.5],[1606.4,-10.5],[1606.7,-7],[1606.9,-5.6],[1607.1,-5.5],[1607.3,-6.5],[1607.5,-9.5],[1607.8,-12.4],[1608.2,-13],[1608.7,-12.6],[1609.2,-12.1],[1609.8,-11.6],[1610.4,-11],[1611,-10.2],[1611.6,-9.6],[1612.2,-8.9],[1612.8,-8.3],[1613.4,-7.8],[1614,-7.4],[1615,-7]];
const zoomT8 = [[1520,-4.5],[1520.4,-5.6],[1520.9,-6.9],[1521.4,-8.1],[1521.9,-9.3],[1522.4,-10.4],[1522.9,-11.5],[1523.4,-12.5],[1523.9,-13.5],[1524.4,-14.4],[1524.9,-15.2],[1525.4,-15.8],[1525.9,-16.5],[1526.4,-17.3],[1526.9,-18.1],[1527.4,-18.9],[1527.9,-19.7],[1528.5,-20.4],[1529.1,-19.5],[1529.7,-18.2],[1530.2,-17.4],[1530.8,-17.9],[1531.4,-16.8],[1532,-17.6],[1532.6,-18.8],[1533.2,-19.8],[1533.8,-20.3],[1534.4,-19.5],[1535,-18.2],[1535.6,-17.4],[1536.1,-16],[1536.6,-14.5],[1537,-12],[1537.2,-7],[1537.45,-4],[1537.65,-1.8],[1537.85,-2.5],[1538.05,-5.5],[1538.3,-10],[1538.6,-14],[1539,-16.4],[1539.5,-15.2],[1540,-14.3],[1540.5,-15.6],[1541,-14.8],[1541.6,-16.2],[1542.2,-15.4],[1542.8,-17],[1543.4,-16.6],[1544,-17.8],[1544.6,-17.1],[1545.2,-18.3],[1545.8,-17.5],[1546.4,-18.6],[1547,-17.6],[1547.6,-18.8],[1548.2,-17.9],[1548.8,-18.5],[1549.4,-17.4],[1550,-18.2],[1550.6,-17.1],[1551.2,-16.2],[1551.8,-17],[1552.4,-16.1],[1553,-17.3],[1553.6,-16.6],[1554.2,-17.8],[1554.8,-17],[1555.4,-18.1],[1556,-17.2],[1556.6,-18.3],[1557.2,-17.5],[1557.8,-18.6],[1558.4,-17.8],[1559,-18.8],[1559.6,-18],[1560.2,-17.1],[1560.8,-17.9],[1561.4,-16.8],[1562,-17.6],[1562.6,-16.4],[1563.2,-17.3],[1563.8,-16.2],[1564.4,-17.1],[1565,-16.5],[1565.6,-17.4],[1566.2,-16.8],[1566.8,-17.6],[1567.4,-18.4],[1568,-17.3],[1568.6,-15.8],[1569.2,-14.6],[1569.8,-15.9],[1570.4,-17.2],[1570.9,-15.8],[1571.4,-14.2],[1571.9,-13.5],[1572.3,-11],[1572.6,-7],[1572.85,-4.3],[1573.05,-3.5],[1573.25,-4],[1573.45,-6.5],[1573.7,-10.5],[1573.95,-13.5],[1574.3,-14.5],[1574.8,-16.8],[1575.3,-15.4],[1575.8,-14.8],[1576.2,-15.3],[1576.7,-17.6],[1577.3,-18.8],[1578,-19.5],[1578.7,-19],[1579.4,-19.7],[1580.1,-19.2],[1580.8,-19.8],[1581.5,-19.1],[1582.2,-19.6],[1582.9,-18.9],[1583.6,-19.5],[1584.3,-18.8],[1585,-19.4],[1585.7,-19.7],[1586.4,-19.1],[1587.1,-19.6],[1587.8,-19],[1588.5,-19.5],[1589.2,-18.8],[1589.9,-19.3],[1590.6,-19.7],[1591.3,-19],[1592,-19.5],[1592.7,-18.9],[1593.4,-19.4],[1594.1,-18.8],[1594.8,-19.3],[1595.5,-18.6],[1596.2,-19.1],[1596.9,-18.4],[1597.6,-18.9],[1598.3,-18.1],[1599,-18.6],[1599.7,-17.8],[1600.4,-18.4],[1601.1,-17.5],[1601.8,-17.9],[1602.5,-17],[1603.2,-17.4],[1603.9,-16.6],[1604.6,-16.9],[1605.3,-16.1],[1605.9,-14.6],[1606.4,-13.8],[1606.9,-12.5],[1607.4,-11.8],[1607.9,-12.2],[1608.4,-11.3],[1608.9,-10.4],[1609.3,-9.5],[1609.7,-7],[1610.05,-4.8],[1610.3,-4],[1610.55,-4.6],[1610.8,-7.2],[1611.1,-8.7],[1611.5,-8.5],[1612,-9],[1612.5,-8.4],[1613,-7.8],[1613.5,-7.2],[1614,-6.6],[1615,-6]];

const fullSeries = [fullT1, fullT2, fullT3, fullT4, fullT5, fullT6, fullT7, fullT8];
const zoomSeries = [zoomT1, zoomT2, zoomT3, zoomT4, zoomT5, zoomT6, zoomT7, zoomT8];

const colors = ['#000080', '#ff00ff', '#ff0000', '#00ffff', '#00ff00', '#800000', '#008080', '#0000ff'];
const serif = '"Liberation Serif", "Times New Roman", serif';

function toPoints(pairs) {
    return pairs.map(p => ({ x: p[0], y: p[1] }));
}

function makeDatasets(series) {
    return series.map((s, i) => ({
        label: labels[i],
        data: toPoints(s),
        borderColor: colors[i],
        backgroundColor: colors[i],
        borderWidth: 2.5,
        pointRadius: 0,
        tension: 0,
        order: series.length - i
    }));
}

// short ticks pointing into the plot, like the original
const innerTicks = {
    id: 'innerTicks',
    afterDraw(chart, args, opts) {
        const { ctx, chartArea: a, scales: { x, y } } = chart;
        ctx.save();
        ctx.lineWidth = 1;
        ctx.strokeStyle = opts.xColor;
        x.ticks.forEach(t => {
            const px = Math.round(x.getPixelForValue(t.value)) + 0.5;
            ctx.beginPath(); ctx.moveTo(px, a.bottom); ctx.lineTo(px, a.bottom - 4); ctx.stroke();
        });
        ctx.strokeStyle = opts.yColor;
        y.ticks.forEach(t => {
            const py = Math.round(y.getPixelForValue(t.value)) + 0.5;
            ctx.beginPath(); ctx.moveTo(a.left, py); ctx.lineTo(a.left + 4, py); ctx.stroke();
        });
        ctx.restore();
    }
};

const lineLegend = {
    id: 'lineLegend',
    afterDraw(chart, args, opts) {
        const ctx = chart.ctx;
        ctx.save();
        ctx.font = '13px ' + serif;
        ctx.textBaseline = 'middle';
        chart.data.datasets.filter(d => labels.includes(d.label)).forEach((d, i) => {
            const y = opts.top + i * opts.step;
            ctx.strokeStyle = d.borderColor;
            ctx.lineWidth = 3;
            ctx.beginPath(); ctx.moveTo(opts.left, y); ctx.lineTo(opts.left + 20, y); ctx.stroke();
            ctx.fillStyle = '#000';
            ctx.fillText(d.label, opts.left + 23, y);
        });
        ctx.restore();
    }
};

// text, ellipses and the little arrow, placed in data units
const notes = {
    id: 'notes',
    afterDraw(chart, args, opts) {
        const { ctx, scales: { x, y } } = chart;
        ctx.save();
        (opts.texts || []).forEach(t => {
            ctx.font = t.font;
            ctx.fillStyle = t.color || '#000';
            ctx.textAlign = 'center';
            ctx.textBaseline = 'middle';
            ctx.fillText(t.text, x.getPixelForValue(t.x), y.getPixelForValue(t.y));
        });
        ctx.strokeStyle = '#000';
        ctx.lineWidth = 1.3;
        (opts.ellipses || []).forEach(e => {
            const cx = x.getPixelForValue(e.x), cy = y.getPixelForValue(e.y);
            const rx = Math.abs(x.getPixelForValue(e.x + e.rx) - cx);
            const ry = Math.abs(y.getPixelForValue(e.y + e.ry) - cy);
            ctx.beginPath(); ctx.ellipse(cx, cy, rx, ry, 0, 0, Math.PI * 2); ctx.stroke();
        });
        (opts.paths || []).forEach(p => {
            ctx.lineWidth = 1.5;
            ctx.beginPath();
            p.forEach((pt, i) => {
                const px = x.getPixelForValue(pt[0]), py = y.getPixelForValue(pt[1]);
                if (i === 0) ctx.moveTo(px, py); else ctx.lineTo(px, py);
            });
            ctx.stroke();
        });
        ctx.restore();
    }
};

function scalesFor(cfg) {
    return {
        x: {
            type: 'linear',
            min: cfg.xMin,
            max: cfg.xMax,
            afterBuildTicks: s => { s.ticks = cfg.xTicks.map(v => ({ value: v })); },
            afterFit: s => { s.height = cfg.xHeight; },
            grid: { display: false, drawTicks: false },
            border: { display: true, color: '#000', width: 1 },
            ticks: {
                padding: cfg.xTickPad,
                color: '#000',
                maxRotation: 0,
                font: { family: serif, size: 17 },
                callback: v => String(v)
            },
            title: {
                display: true,
                text: 'Wavelength(nm)',
                color: '#000',
                font: { family: serif, size: 18, lineHeight: cfg.xTitleLH },
                padding: { top: 0, bottom: 0 }
            }
        },
        y: {
            type: 'linear',
            min: -20,
            max: 0,
            afterBuildTicks: s => { s.ticks = ticksY.map(v => ({ value: v })); },
            afterFit: s => { s.width = cfg.yWidth; },
            grid: { display: false, drawTicks: false },
            border: { display: true, color: cfg.yColor, width: 1 },
            ticks: {
                padding: cfg.yTickPad,
                color: '#000',
                font: { family: serif, size: 17 },
                callback: v => String(v)
            },
            title: {
                display: true,
                text: 'Normalized output power(dB)',
                color: '#000',
                font: { family: serif, size: cfg.yTitleSize, lineHeight: 1.2 },
                padding: { top: cfg.yTitlePad, bottom: 0 }
            }
        }
    };
}

const baseOptions = {
    responsive: false,
    animation: false,
    devicePixelRatio: 1,
    events: []
};

// upper chart: full band
const fullDatasets = makeDatasets(fullSeries);
fullDatasets.push({
    label: 'expected',
    data: toPoints(expected),
    borderColor: '#000',
    borderWidth: 2.5,
    borderDash: [2, 1],
    pointRadius: 0,
    tension: 0,
    order: 0
});

new Chart(document.getElementById('fullChart').getContext('2d'), {
    type: 'line',
    data: { datasets: fullDatasets },
    plugins: [innerTicks, lineLegend, notes],
    options: Object.assign({}, baseOptions, {
        layout: { padding: { left: 0, top: 16, right: 51, bottom: 377.5 } },
        scales: scalesFor({
            xMin: 1550, xMax: 1580, xTicks: fullTicksX, xHeight: 62, xTickPad: 18, xTitleLH: 1.2,
            yWidth: 95, yTickPad: 13, yColor: '#808080', yTitleSize: 17, yTitlePad: 30
        }),
        plugins: {
            legend: { display: false },
            tooltip: { enabled: false },
            innerTicks: { xColor: '#000', yColor: '#808080' },
            lineLegend: { left: 543, top: 43.5, step: 19 },
            notes: {
                texts: [{ text: 'expected', x: 1566.33, y: -1.9, font: '18px "Liberation Mono", monospace', color: '#333' }]
            }
        }
    })
});

// lower chart: zoomed 1520-1615 nm with the three channel groups
new Chart(document.getElementById('zoomChart').getContext('2d'), {
    type: 'line',
    data: { datasets: makeDatasets(zoomSeries) },
    plugins: [innerTicks, lineLegend, notes],
    options: Object.assign({}, baseOptions, {
        layout: { padding: { left: 0, top: 405, right: 78, bottom: 0 } },
        scales: scalesFor({
            xMin: 1520, xMax: 1615, xTicks: zoomTicksX, xHeight: 60, xTickPad: 18.5, xTitleLH: 1.1,
            yWidth: 74, yTickPad: 14.5, yColor: '#333', yTitleSize: 16, yTitlePad: 9
        }),
        plugins: {
            legend: { display: false },
            tooltip: { enabled: false },
            innerTicks: { xColor: '#000', yColor: '#333' },
            lineLegend: { left: 523, top: 429, step: 18.3 },
            notes: {
                texts: [
                    { text: 'ZOOM', x: 1556.7, y: 1.54, font: '25px ' + serif },
                    { text: 'Group1', x: 1532.9, y: -0.55, font: '16px ' + serif },
                    { text: 'Group2', x: 1565.6, y: -1.39, font: '16px ' + serif },
                    { text: 'Group3', x: 1600.8, y: -2.82, font: '16px ' + serif }
                ],
                ellipses: [
                    { x: 1530.98, y: -3.5, rx: 11.7, ry: 2.27 },
                    { x: 1564.44, y: -4.89, rx: 14.5, ry: 2.49 },
                    { x: 1600.6, y: -7.03, rx: 14.6, ry: 3.3 }
                ],
                paths: [[[1571.99, 3.15], [1574.77, 1.98], [1572.85, 2.2], [1571.99, 1.25]]]
            }
        }
    })
});
</script>
</body>
</html>
